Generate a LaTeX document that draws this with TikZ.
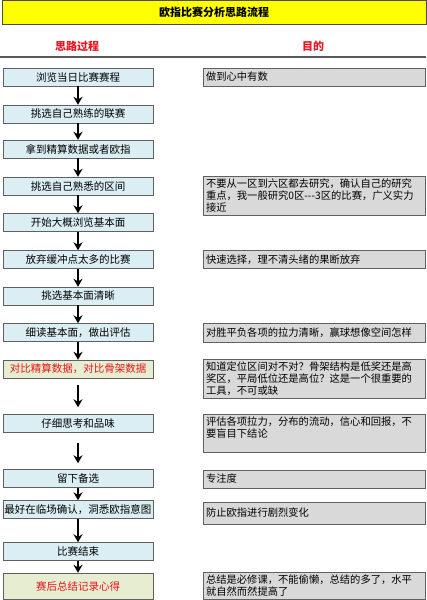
\documentclass[tikz,border=0pt]{standalone}
\usepackage{fontspec}
\setmainfont{Noto Sans CJK SC}[Ligatures=TeXOff]
\usepackage{xcolor}
\usetikzlibrary{arrows.meta,positioning}

\definecolor{stepblue}{RGB}{219,238,244}
\definecolor{stepgreen}{RGB}{230,237,208}
\definecolor{notegray}{RGB}{217,217,217}
\definecolor{titleyellow}{RGB}{255,255,0}
\definecolor{headred}{RGB}{230,20,30}

\begin{document}
\begin{tikzpicture}[x=1pt,y=-1pt,
      stepbox/.style={rectangle,draw=gray!75!black,fill=stepblue,minimum width=150pt,minimum height=18pt,
        inner sep=0pt,font=\fontsize{10.5pt}{12pt}\selectfont},
      keybox/.style={stepbox,fill=stepgreen,text=headred},
      notebox/.style={rectangle,draw=gray!75!black,fill=notegray,minimum width=222pt,minimum height=18pt,
        text width=216pt,inner sep=3pt,align=left,font=\fontsize{10.3pt}{11.8pt}\selectfont},
      flow/.style={draw=black,line width=1.8pt,-{Stealth[length=8pt,width=9pt]}}]
    \useasboundingbox (0,0) rectangle (426,600);
    % title and column heads
    \node[draw=gray!60!black,fill=titleyellow,minimum width=424pt,minimum height=24pt,inner sep=0pt,
      font=\fontsize{11pt}{12pt}\selectfont\bfseries] (title) at (214,12) {欧指比赛分析思路流程};
    \node[text=headred,font=\fontsize{11pt}{12pt}\selectfont\bfseries] (headL) at (77,46) {思路过程};
    \node[text=headred,font=\fontsize{11pt}{12pt}\selectfont\bfseries] (headR) at (313,46) {目的};
    \draw[gray!70!black,line width=1.2pt] (0,57) -- (426,57);
    % left column: steps
    \node[stepbox] (b1) at (78,77) {浏览当日比赛赛程};
    \node[stepbox] (b2) at (78,114) {挑选自己熟练的联赛};
    \node[stepbox] (b3) at (78,149) {拿到精算数据或者欧指};
    \node[stepbox] (b4) at (78,186) {挑选自己熟悉的区间};
    \node[stepbox] (b5) at (78,222.5) {开始大概浏览基本面};
    \node[stepbox] (b6) at (78,259.5) {放弃缓冲点太多的比赛};
    \node[stepbox] (b7) at (78,296) {挑选基本面清晰};
    \node[stepbox] (b8) at (78,332.5) {细读基本面，做出评估};
    \node[keybox] (b9) at (78,369) {对比精算数据，对比骨架数据};
    \node[stepbox] (b10) at (78,423.5) {仔细思考和品味};
    \node[stepbox] (b11) at (78,478.5) {留下备选};
    \node[stepbox] (b12) at (78,509.5) {最好在临场确认，洞悉欧指意图};
    \node[stepbox] (b13) at (78,551.5) {比赛结束};
    \node[keybox,minimum height=26pt] (b14) at (78,586) {赛后总结记录心得};
    % right column: aims
    \node[notebox] (r1) at (314,77) {做到心中有数};
    \node[notebox,minimum height=37pt] (r2) at (314,195.5) {不要从一区到六区都去研究，确认自己的研究\\重点，我一般研究0区---3区的比赛，广义实力\\接近};
    \node[notebox] (r3) at (314,259.5) {快速选择，理不清头绪的果断放弃};
    \node[notebox,minimum height=19pt] (r4) at (314,332.5) {对胜平负各项的拉力清晰，赢球想像空间怎样};
    \node[notebox,minimum height=37pt] (r5) at (314,378.5) {知道定位区间对不对？骨架结构是低奖还是高\\奖区，平局低位还是高位？这是一个很重要的\\工具，不可或缺};
    \node[notebox,minimum height=38pt] (r6) at (314,433) {评估各项拉力，分布的流动，信心和回报，不\\要盲目下结论\\\mbox{}};
    \node[notebox] (r7) at (314,479) {专注度};
    \node[notebox,minimum height=22pt] (r8) at (314,513) {防止欧指进行剧烈变化};
    \node[notebox,minimum height=25pt] (r9) at (314,585.5) {总结是必修课，不能偷懒，总结的多了，水平\\就自然而然提高了};
    % arrows
    \foreach \a/\b in {b1/b2,b2/b3,b3/b4,b4/b5,b5/b6,b6/b7,b7/b8,b8/b9,b11/b12,b12/b13,b13/b14} {
      \draw[flow] (\a) -- (\b);
    }
    \draw[flow,shorten <=7pt,shorten >=7pt] (b9) -- (b10);
    \draw[flow,shorten <=10pt,shorten >=6pt] (b10) -- (b11);
  \end{tikzpicture}
\end{document}
